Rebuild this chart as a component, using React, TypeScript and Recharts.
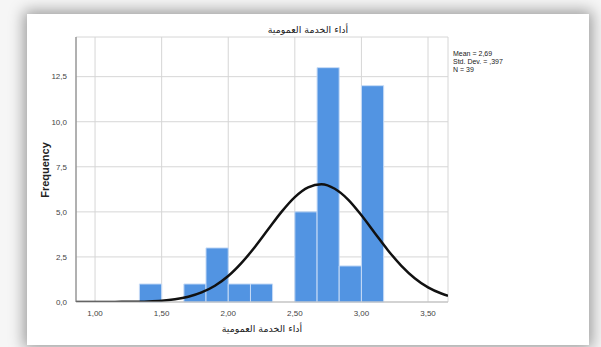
import React from 'react';
import {
  ComposedChart,
  Line,
  XAxis,
  YAxis,
  CartesianGrid,
  ReferenceArea,
} from 'recharts';

// ---------------------------------------------------------------------------
// Data
// ---------------------------------------------------------------------------

const TITLE = 'أداء الخدمة العمومية';

// histogram bins (width 1/6)
const binStarts = [1.333, 1.667, 1.833, 2.0, 2.167, 2.5, 2.667, 2.833, 3.0];
const binEnds = [1.5, 1.833, 2.0, 2.167, 2.333, 2.667, 2.833, 3.0, 3.167];
const binCounts = [1, 1, 3, 1, 1, 5, 13, 2, 12];

// normal curve overlay
const curveX = [
  0.857, 1.0, 1.1, 1.2, 1.3, 1.4, 1.5, 1.6, 1.7, 1.8, 1.9, 2.0, 2.1, 2.2, 2.3,
  2.4, 2.5, 2.6, 2.7, 2.8, 2.9, 3.0, 3.1, 3.2, 3.3, 3.4, 3.5, 3.6, 3.65,
];
const curveY = [
  0.0, 0.0, 0.0, 0.01, 0.01, 0.03, 0.07, 0.15, 0.29, 0.53, 0.9, 1.44, 2.17,
  3.05, 4.03, 5.0, 5.82, 6.36, 6.53, 6.28, 5.68, 4.81, 3.83, 2.86, 2.01, 1.32,
  0.81, 0.47, 0.35,
];

const xTicks = [1.0, 1.5, 2.0, 2.5, 3.0, 3.5];
const yTicks = [0, 2.5, 5, 7.5, 10, 12.5];

const statLines = ['Mean = 2,69', 'Std. Dev. = ,397', 'N = 39'];

// ---------------------------------------------------------------------------

const curveData = curveX.map((x, i) => ({ x, y: curveY[i] }));

const fmtX = (v: number) => v.toFixed(2).replace('.', ',');
const fmtY = (v: number) => v.toFixed(1).replace('.', ',');

const TICK = { fill: '#444', fontSize: 8, fontFamily: 'Liberation Sans, Arial' };

export default function App() {
  return (
    <div
      style={{
        position: 'fixed',
        left: 0,
        top: 0,
        width: 601,
        height: 347,
        background: '#f6f6f6',
        overflow: 'hidden',
      }}
    >
      {/* white panel with soft shadow frame */}
      <div
        style={{
          position: 'absolute',
          left: 27,
          top: 14,
          width: 562,
          height: 331,
          background: '#fff',
          boxShadow: '0 0 14px 3px rgba(0,0,0,0.38)',
        }}
      />

      <div style={{ position: 'absolute', left: 0, top: 0 }}>
        <ComposedChart
          width={601}
          height={347}
          data={curveData}
          margin={{ top: 37, right: 153, bottom: 25, left: 36 }}
        >
          <CartesianGrid stroke="#d6d6d6" strokeWidth={1} />
          <XAxis
            dataKey="x"
            type="number"
            domain={[0.857, 3.65]}
            ticks={xTicks}
            tickFormatter={fmtX}
            tick={TICK}
            tickLine={false}
            axisLine={{ stroke: '#bbb' }}
            height={20}
            tickMargin={2}
            allowDataOverflow
          />
          <YAxis
            type="number"
            domain={[0, 14.7]}
            ticks={yTicks}
            tickFormatter={fmtY}
            tick={TICK}
            tickLine={false}
            axisLine={{ stroke: '#777' }}
            width={40}
            tickMargin={3}
            allowDataOverflow
          />
          {binCounts.map((c, i) => (
            <ReferenceArea
              key={`bin-${i}`}
              x1={binStarts[i]}
              x2={binEnds[i]}
              y1={0}
              y2={c}
              fill="#5294e2"
              fillOpacity={1}
              stroke="#c6dbf6"
              strokeWidth={1}
              strokeOpacity={1}
            />
          ))}
          <Line
            dataKey="y"
            type="monotone"
            stroke="#111"
            strokeWidth={2.5}
            dot={false}
            activeDot={false}
            isAnimationActive={false}
          />
        </ComposedChart>
      </div>

      {/* title */}
      <div
        style={{
          position: 'absolute',
          left: 27,
          width: 562,
          top: 24,
          textAlign: 'center',
          fontFamily: 'DejaVu Sans',
          fontSize: 9.5,
          color: '#222',
        }}
      >
        {TITLE}
      </div>

      {/* x axis label */}
      <div
        style={{
          position: 'absolute',
          left: 76,
          width: 372,
          top: 323,
          textAlign: 'center',
          fontFamily: 'DejaVu Sans',
          fontSize: 9.5,
          color: '#222',
        }}
      >
        {TITLE}
      </div>

      {/* y axis label */}
      <div
        style={{
          position: 'absolute',
          left: 45,
          top: 170,
          transform: 'translate(-50%, -50%) rotate(-90deg)',
          fontFamily: 'Liberation Sans, Arial',
          fontWeight: 'bold',
          fontSize: 11,
          color: '#222',
          whiteSpace: 'nowrap',
        }}
      >
        Frequency
      </div>

      {/* stats */}
      <div
        style={{
          position: 'absolute',
          left: 453,
          top: 50,
          fontFamily: 'Liberation Sans, Arial',
          fontSize: 7,
          lineHeight: '8px',
          color: '#222',
        }}
      >
        {statLines.map((s) => (
          <div key={s}>{s}</div>
        ))}
      </div>
    </div>
  );
}
